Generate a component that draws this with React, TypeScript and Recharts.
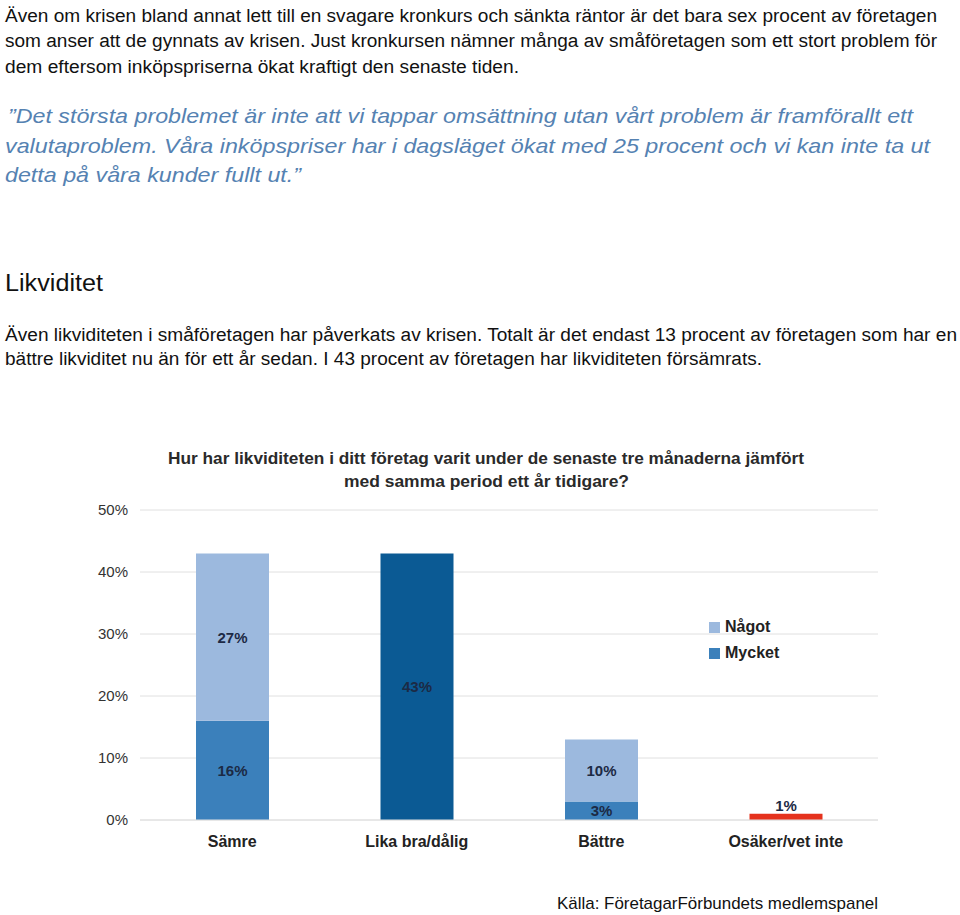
import React from "react";
import { BarChart, Bar, XAxis, YAxis, CartesianGrid, LabelList, Cell } from "recharts";

// survey answers, percent of companies
const categories = ["Sämre", "Lika bra/dålig", "Bättre", "Osäker/vet inte"];
const mycket = [16, 43, 3, 1]; // bottom segment (Lika bra and Osäker are single bars)
const nagot = [27, 0, 10, 0];
const yTicks = [0, 10, 20, 30, 40, 50];

const LIGHT = "#9cb9de";
const MID = "#3b80bb";
const DARK = "#0b5a94";
const RED = "#e5321d";
const bottomColors = [MID, DARK, MID, RED];

const legendItems = [
  { name: "Något", color: LIGHT },
  { name: "Mycket", color: MID },
];

const data = categories.map((c, i) => ({ name: c, mycket: mycket[i], nagot: nagot[i] }));

const FONT = "'Liberation Sans', Arial, sans-serif";

// text lines of the page: [text, x, baseline, width]
const bodyLines: [string, number, number, number][] = [
  ["Även om krisen bland annat lett till en svagare kronkurs och sänkta räntor är det bara sex procent av företagen", 5, 22, 932],
  ["som anser att de gynnats av krisen. Just kronkursen nämner många av småföretagen som ett stort problem för", 5, 47, 932],
  ["dem eftersom inköpspriserna ökat kraftigt den senaste tiden.", 5, 73, 514],
];
const quoteLines: [string, number, number, number][] = [
  ["”Det största problemet är inte att vi tappar omsättning utan vårt problem är framförallt ett", 8, 123, 905],
  ["valutaproblem. Våra inköpspriser har i dagsläget ökat med 25 procent och vi kan inte ta ut", 5, 153, 925],
  ["detta på våra kunder fullt ut.”", 5, 182, 296],
];
const paraLines: [string, number, number, number][] = [
  ["Även likviditeten i småföretagen har påverkats av krisen. Totalt är det endast 13 procent av företagen som har en", 5, 341, 952],
  ["bättre likviditet nu än för ett år sedan. I 43 procent av företagen har likviditeten försämrats.", 5, 365, 757],
];
const titleLines: [string, number, number, number][] = [
  ["Hur har likviditeten i ditt företag varit under de senaste tre månaderna jämfört", 168, 464, 636],
  ["med samma period ett år tidigare?", 344, 487, 285],
];

const renderLabel = (props: any) => {
  const { x, y, width, height, value } = props;
  if (!value) return null;
  const cx = x + width / 2;
  const cy = height < 10 ? y - 8 : y + height / 2;
  return (
    <text x={cx} y={cy} textAnchor="middle" dominantBaseline="central" fontSize={15} fontWeight="bold" fill="#1c2a45" fontFamily={FONT}>
      {value}%
    </text>
  );
};

export default function App() {
  return (
    <div style={{ position: "absolute", left: 0, top: 0, width: 960, height: 915, background: "#fff", overflow: "hidden" }}>
      <svg width={960} height={915} style={{ position: "absolute", left: 0, top: 0 }}>
        {bodyLines.map(([t, x, y, w]) => (
          <text key={t} x={x} y={y} fontSize={18} fill="#111" fontFamily={FONT} textLength={w} lengthAdjust="spacingAndGlyphs">{t}</text>
        ))}
        {quoteLines.map(([t, x, y, w]) => (
          <text key={t} x={x} y={y} fontSize={21} fontStyle="italic" fill="#5582b2" fontFamily={FONT} textLength={w} lengthAdjust="spacingAndGlyphs">{t}</text>
        ))}
        <text x={5} y={291} fontSize={23} fill="#111" fontFamily={FONT} textLength={98} lengthAdjust="spacingAndGlyphs">Likviditet</text>
        {paraLines.map(([t, x, y, w]) => (
          <text key={t} x={x} y={y} fontSize={18} fill="#111" fontFamily={FONT} textLength={w} lengthAdjust="spacingAndGlyphs">{t}</text>
        ))}
        {titleLines.map(([t, x, y, w]) => (
          <text key={t} x={x} y={y} fontSize={17} fontWeight="bold" fill="#2a2a2a" fontFamily={FONT} textLength={w} lengthAdjust="spacingAndGlyphs">{t}</text>
        ))}
        <text x={557} y={909} fontSize={17} fill="#111" fontFamily={FONT} textLength={321} lengthAdjust="spacingAndGlyphs">Källa: FöretagarFörbundets medlemspanel</text>
      </svg>
      <div style={{ position: "absolute", left: 0, top: 440 }}>
        <BarChart width={960} height={475} data={data} margin={{ top: 70, right: 82, bottom: 65, left: 80 }}>
          <CartesianGrid vertical={false} stroke="#e0e0e0" />
          <XAxis
            dataKey="name"
            height={30}
            axisLine={{ stroke: "#e0e0e0" }}
            tickLine={false}
            tickSize={0}
            tickMargin={16}
            tick={{ fontSize: 16, fontWeight: "bold", fill: "#222", fontFamily: FONT }}
          />
          <YAxis
            width={60}
            domain={[0, 50]}
            ticks={yTicks}
            axisLine={false}
            tickLine={false}
            tickSize={0}
            tickMargin={12}
            tickFormatter={(v) => `${v}%`}
            tick={{ fontSize: 15, fill: "#333", fontFamily: FONT }}
          />
          <Bar dataKey="mycket" name="Mycket" stackId="a" barSize={73} fill={MID} isAnimationActive={false}>
            {data.map((d, i) => (
              <Cell key={d.name} fill={bottomColors[i]} />
            ))}
            <LabelList dataKey="mycket" content={renderLabel} />
          </Bar>
          <Bar dataKey="nagot" name="Något" stackId="a" barSize={73} fill={LIGHT} isAnimationActive={false}>
            <LabelList dataKey="nagot" content={renderLabel} />
          </Bar>
        </BarChart>
      </div>
      <div style={{ position: "absolute", left: 709, top: 614, fontFamily: FONT }}>
        {legendItems.map((item) => (
          <div key={item.name} style={{ display: "flex", alignItems: "center", height: 26 }}>
            <span style={{ width: 11, height: 11, background: item.color, marginRight: 5 }} />
            <span style={{ fontSize: 16, fontWeight: "bold", color: "#222" }}>{item.name}</span>
          </div>
        ))}
      </div>
    </div>
  );
}
